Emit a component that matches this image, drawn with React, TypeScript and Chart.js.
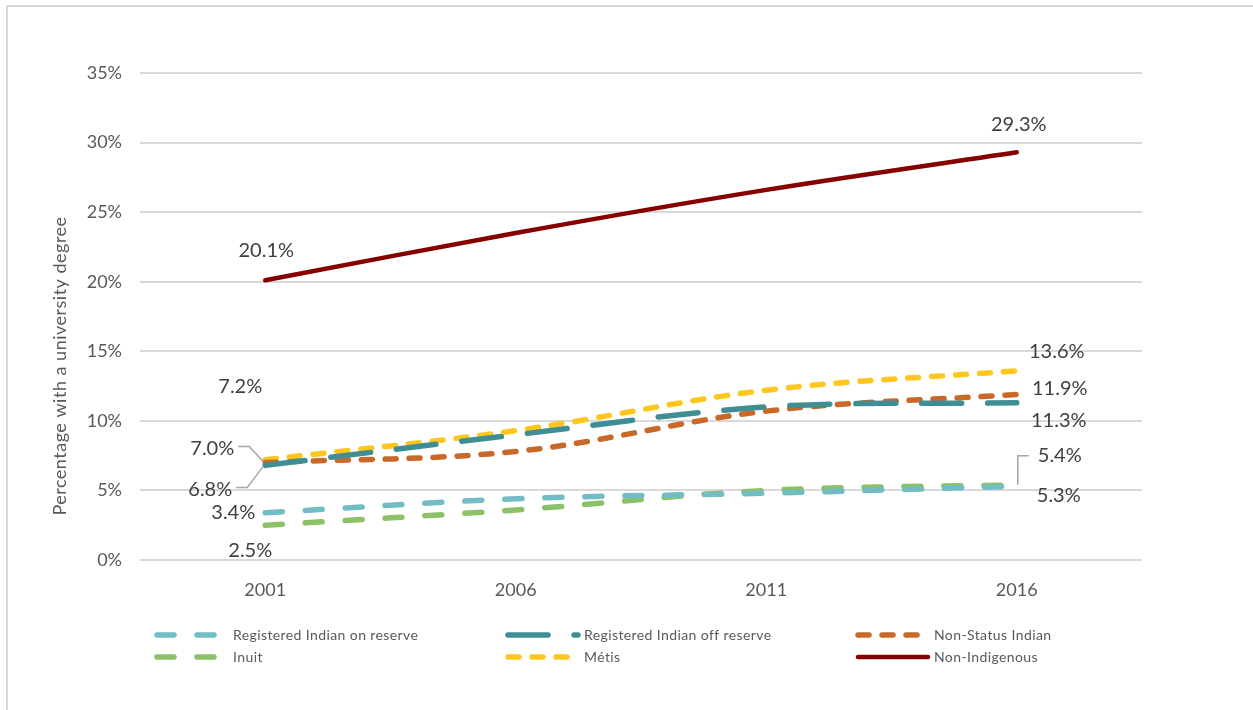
import React, { useEffect, useRef } from "react";
import { Chart, registerables } from "chart.js";

Chart.register(...registerables);

const years = ["2001", "2006", "2011", "2016"];
const seriesNames = [
  "Registered Indian on reserve",
  "Registered Indian off reserve",
  "Non-Status Indian",
  "Inuit",
  "Métis",
  "Non-Indigenous",
];
const onReserve = [3.4, 4.4, 4.8, 5.3];
const offReserve = [6.8, 9.0, 11.0, 11.3];
const nonStatus = [7.0, 7.8, 10.7, 11.9];
const inuit = [2.5, 3.6, 5.0, 5.4];
const metis = [7.2, 9.3, 12.2, 13.6];
const nonIndigenous = [20.1, 23.5, 26.6, 29.3];
const yTicks = [0, 5, 10, 15, 20, 25, 30, 35];

const colors = ["#72BCC4", "#3F8E93", "#C8692A", "#8CC168", "#FFC61E", "#860000"];
const dashes = [[17, 23], [40, 26], [11, 13], [17, 23], [11, 13], []];
const widths = [5.5, 5.5, 5.5, 5.5, 5.5, 4.5];

// label placement (relative to first / last point), and whether a leader line is drawn
const labelPlacement = [
  [[-32, 0, false], [42, 9, false]],
  [[-55, 24, true], [42, 18, false]],
  [[-53, -14, true], [43, -6, false]],
  [[-15, 25, false], [43, -29, true]],
  [[-25, -73, false], [40, -19, false]],
  [[1, -30, false], [2, -28, false]],
];

const FONT = "Lato, 'Open Sans', sans-serif";
const allSeries = [onReserve, offReserve, nonStatus, inuit, metis, nonIndigenous];

const framePlugin = {
  id: "frame",
  beforeDraw(chart: any) {
    const ctx = chart.ctx;
    ctx.save();
    ctx.fillStyle = "#ffffff";
    ctx.fillRect(0, 0, chart.width, chart.height);
    ctx.strokeStyle = "#d9d9d9";
    ctx.lineWidth = 2;
    ctx.beginPath();
    ctx.moveTo(7, chart.height);
    ctx.lineTo(7, 6);
    ctx.lineTo(chart.width, 6);
    ctx.stroke();
    // axis title
    ctx.translate(60, 366);
    ctx.rotate(-Math.PI / 2);
    ctx.fillStyle = "#595959";
    ctx.font = "18px " + FONT;
    (ctx as any).letterSpacing = "0.5px";
    ctx.textAlign = "center";
    ctx.textBaseline = "middle";
    ctx.fillText("Percentage with a university degree", 0, 0);
    ctx.restore();
  },
};

const labelPlugin = {
  id: "labels",
  afterDatasetsDraw(chart: any) {
    const ctx = chart.ctx;
    ctx.save();
    ctx.font = "20px " + FONT;
    ctx.fillStyle = "#404040";
    ctx.textAlign = "center";
    ctx.textBaseline = "middle";
    chart.data.datasets.forEach((ds: any, di: number) => {
      const meta = chart.getDatasetMeta(di);
      [0, ds.data.length - 1].forEach((pi, k) => {
        const pt = meta.data[pi];
        const [dx, dy, leader] = labelPlacement[di][k] as [number, number, boolean];
        const text = ds.data[pi].toFixed(1) + "%";
        const tx = pt.x + dx;
        const ty = pt.y + dy;
        ctx.fillText(text, tx, ty);
        if (leader) {
          const w = ctx.measureText(text).width;
          ctx.save();
          ctx.strokeStyle = "#a6a6a6";
          ctx.lineWidth = 1.5;
          ctx.beginPath();
          if (dx < 0) {
            const sx = tx + w / 2 + 4;
            ctx.moveTo(sx, ty - 2);
            ctx.lineTo(sx + 11, ty - 2);
            ctx.lineTo(pt.x - 2, pt.y + (dy < 0 ? -1 : 1));
          } else {
            const sx = tx - w / 2 - 9;
            ctx.moveTo(sx, ty);
            ctx.lineTo(sx - 11, ty);
            ctx.lineTo(pt.x + 1, pt.y);
          }
          ctx.stroke();
          ctx.restore();
        }
      });
    });
    ctx.restore();
  },
};

const legendPlugin = {
  id: "customLegend",
  afterDraw(chart: any) {
    const ctx = chart.ctx;
    const colX = [155, 506, 856];
    const rowY = [635, 657];
    ctx.save();
    ctx.font = "14px " + FONT;
    (ctx as any).letterSpacing = "0.4px";
    ctx.textBaseline = "middle";
    ctx.textAlign = "left";
    seriesNames.forEach((name, i) => {
      const x = colX[i % 3];
      const y = rowY[Math.floor(i / 3)];
      ctx.save();
      ctx.strokeStyle = colors[i];
      ctx.lineWidth = widths[i];
      ctx.lineCap = "round";
      ctx.setLineDash(dashes[i]);
      ctx.beginPath();
      ctx.moveTo(x + 2, y);
      ctx.lineTo(x + 72, y);
      ctx.stroke();
      ctx.restore();
      ctx.fillStyle = "#595959";
      ctx.fillText(name, x + 78, y);
    });
    ctx.restore();
  },
};

export default function App() {
  const ref = useRef<HTMLCanvasElement | null>(null);
  useEffect(() => {
    if (!ref.current) return;
    const chart = new Chart(ref.current, {
      type: "line",
      data: {
        labels: years,
        datasets: allSeries.map((d, i) => ({
          label: seriesNames[i],
          data: d,
          borderColor: colors[i],
          backgroundColor: colors[i],
          borderWidth: widths[i],
          borderDash: dashes[i],
          borderCapStyle: "round",
          pointRadius: 0,
          tension: 0.35,
          fill: false,
        })),
      },
      options: {
        responsive: false,
        animation: false,
        layout: { padding: { left: 0, right: 111, top: 73, bottom: 0 } },
        plugins: { legend: { display: false }, tooltip: { enabled: false } },
        scales: {
          x: {
            offset: true,
            grid: { display: false, drawTicks: false },
            border: { display: false },
            ticks: { color: "#595959", font: { family: FONT, size: 18 }, padding: 19 },
            afterFit(scale: any) {
              scale.height = 150;
            },
          },
          y: {
            min: 0,
            max: 35,
            afterBuildTicks(scale: any) {
              scale.ticks = yTicks.map((v) => ({ value: v }));
            },
            grid: { color: "#d9d9d9", lineWidth: 2, drawTicks: false },
            border: { display: false },
            ticks: {
              color: "#595959",
              font: { family: FONT, size: 18 },
              padding: 18,
              callback: (v: any) => v + "%",
            },
            afterFit(scale: any) {
              scale.width = 140;
            },
          },
        },
      },
      plugins: [framePlugin, labelPlugin, legendPlugin],
    } as any);
    return () => chart.destroy();
  }, []);
  return (
    <div style={{ position: "fixed", left: 0, top: 0, width: 1253, height: 710, background: "#fff" }}>
      <canvas ref={ref} width={1253} height={710} style={{ display: "block" }} />
    </div>
  );
}
